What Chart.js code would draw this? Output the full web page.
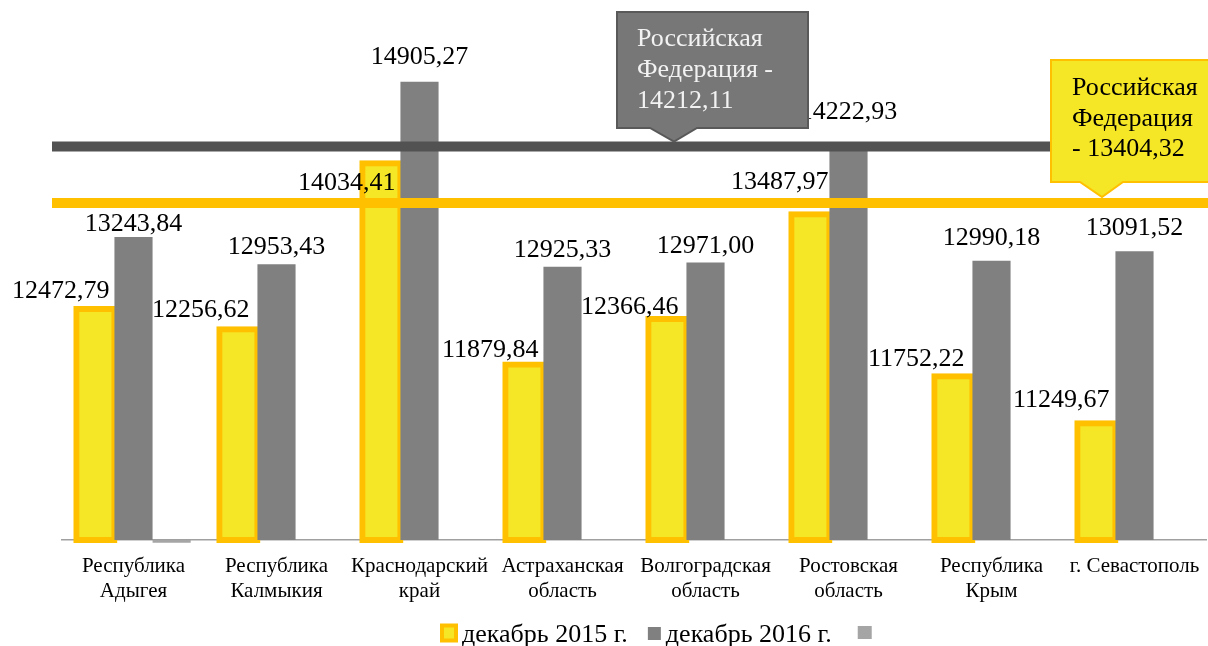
<!DOCTYPE html>
<html><head><meta charset="utf-8">
<script src="https://cdn.jsdelivr.net/npm/chart.js@4.4.1/dist/chart.umd.min.js"></script>
<style>html,body{margin:0;padding:0;background:#fff}#wrap{width:1208px;height:646px;position:relative}</style>
</head><body><div id="wrap"><canvas id="c" width="1208" height="646"></canvas></div>
<script>
// ---- data ----
const categories = [["Республика","Адыгея"],["Республика","Калмыкия"],["Краснодарский","край"],["Астраханская","область"],["Волгоградская","область"],["Ростовская","область"],["Республика","Крым"],"г. Севастополь"];
const seriesNames = ["декабрь 2015 г.", "декабрь 2016 г.", ""];
const dec2015 = [12472.79, 12256.62, 14034.41, 11879.84, 12366.46, 13487.97, 11752.22, 11249.67];
const dec2016 = [13243.84, 12953.43, 14905.27, 12925.33, 12971.00, 14222.93, 12990.18, 13091.52];
const series3 = [9970, null, null, null, null, null, null, null];
const rfValues = [14212.11, 13404.32];        // Российская Федерация: 2016, 2015
const rfLineLevels = [14212.11, 13608];       // levels at which the lines are drawn in the picture
const yMin = 10000, yMax = 15000;

// ---- style / layout ----
const FONT = "'Liberation Serif', 'Times New Roman', serif";
const YEL = '#F5E626', ORANGE = '#FFC000', GREY = '#808080', LGREY = '#A5A5A5', DARK = '#525252';
const labelLayout = {
  yellowGap: [11, 12, -27, 7, 5, 25, 10, 16],
  yellowRightInset: [5, 8, 5, 5, 8, 1, 8, 6],
  greyGap: [6, 10, 18, 9.5, 10, 27, 16, 16]
};
const fmt = v => v.toFixed(2).replace('.', ',');

const orderPlugin = {
  id: 'orderPlugin',
  beforeDatasetDraw(chart, args) {
    if (args.index === 0) return false;
    if (args.index === 1) chart.getDatasetMeta(0).controller.draw();
  }
};

function callout(ctx, box, baseL, baseR, tipX, tipY, fill, stroke, lw) {
  ctx.save();
  ctx.beginPath();
  ctx.moveTo(box.x, box.y);
  ctx.lineTo(box.x + box.w, box.y);
  ctx.lineTo(box.x + box.w, box.y + box.h);
  ctx.lineTo(baseR, box.y + box.h);
  ctx.lineTo(tipX, tipY);
  ctx.lineTo(baseL, box.y + box.h);
  ctx.lineTo(box.x, box.y + box.h);
  ctx.closePath();
  ctx.fillStyle = fill; ctx.fill();
  ctx.lineWidth = lw; ctx.strokeStyle = stroke; ctx.stroke();
  ctx.restore();
}

const overlayPlugin = {
  id: 'overlay',
  afterDraw(chart) {
    const ctx = chart.ctx, y = chart.scales.y;
    // reference lines
    const yDark = y.getPixelForValue(rfLineLevels[0]);
    const yYel = y.getPixelForValue(rfLineLevels[1]);
    ctx.save();
    ctx.lineWidth = 10;
    ctx.strokeStyle = DARK;
    ctx.beginPath(); ctx.moveTo(52, yDark); ctx.lineTo(1208, yDark); ctx.stroke();
    ctx.strokeStyle = ORANGE;
    ctx.beginPath(); ctx.moveTo(52, yYel); ctx.lineTo(1208, yYel); ctx.stroke();
    ctx.restore();

    // data labels
    ctx.save();
    ctx.font = '26px ' + FONT;
    ctx.fillStyle = '#000';
    ctx.textBaseline = 'alphabetic';
    const m0 = chart.getDatasetMeta(0), m1 = chart.getDatasetMeta(1);
    m0.data.forEach((b, i) => {
      ctx.textAlign = 'right';
      ctx.fillText(fmt(dec2015[i]), b.x + b.width / 2 - labelLayout.yellowRightInset[i], b.y - labelLayout.yellowGap[i]);
    });
    m1.data.forEach((b, i) => {
      ctx.textAlign = 'center';
      ctx.fillText(fmt(dec2016[i]), b.x, b.y - labelLayout.greyGap[i]);
    });
    ctx.restore();

    // callouts
    callout(ctx, {x: 617, y: 12, w: 191, h: 116}, 650, 697, 674, yDark - 5, '#777777', '#595959', 2);
    callout(ctx, {x: 1051, y: 60, w: 170, h: 122}, 1080, 1123, 1102, yYel - 6, YEL, ORANGE, 2);
    ctx.save();
    ctx.textAlign = 'left'; ctx.textBaseline = 'alphabetic';
    ctx.font = '26px ' + FONT; ctx.fillStyle = '#F2F2F2';
    ['Российская', 'Федерация -', fmt(rfValues[0])].forEach((t, k) => ctx.fillText(t, 637, 46 + k * 31));
    ctx.font = '26px ' + FONT; ctx.fillStyle = '#000';
    ['Российская', 'Федерация', '- ' + fmt(rfValues[1])].forEach((t, k) => ctx.fillText(t, 1072, 95 + k * 30.5));
    ctx.restore();

    // legend
    ctx.save();
    ctx.font = '26px ' + FONT; ctx.fillStyle = '#000'; ctx.textBaseline = 'alphabetic'; ctx.textAlign = 'left';
    let x = 440;
    ctx.fillStyle = ORANGE; ctx.fillRect(x, 623.5, 18, 19);
    ctx.fillStyle = YEL; ctx.fillRect(x + 4, 627.5, 10, 11);
    x += 22;
    ctx.fillStyle = '#000'; ctx.fillText(seriesNames[0], x, 642);
    x += ctx.measureText(seriesNames[0]).width + 20;
    ctx.fillStyle = GREY; ctx.fillRect(x, 627, 13, 13);
    x += 18;
    ctx.fillStyle = '#000'; ctx.fillText(seriesNames[1], x, 642);
    x += ctx.measureText(seriesNames[1]).width + 26;
    ctx.fillStyle = LGREY; ctx.fillRect(x, 626, 14, 13);
    ctx.restore();
  }
};

new Chart(document.getElementById('c'), {
  type: 'bar',
  data: {
    labels: categories,
    datasets: [
      {label: seriesNames[0], data: dec2015, base: yMin, backgroundColor: YEL, borderColor: ORANGE, borderWidth: 6, borderSkipped: false, inflateAmount: 3},
      {label: seriesNames[1], data: dec2016, base: yMin, backgroundColor: GREY, borderWidth: 0},
      {label: seriesNames[2], data: series3, base: yMin, backgroundColor: LGREY, borderWidth: 0, clip: false}
    ]
  },
  options: {
    responsive: false,
    animation: false,
    devicePixelRatio: 1,
    categoryPercentage: 0.8,
    barPercentage: 1.0,
    layout: {padding: {left: 62, right: 2, top: 73, bottom: 0}},
    plugins: {legend: {display: false}, tooltip: {enabled: false}},
    scales: {
      x: {
        grid: {display: false, drawTicks: false},
        border: {display: true, color: '#A0A0A0', width: 1.5},
        ticks: {color: '#000', font: {family: FONT, size: 21, lineHeight: 1.2}, padding: 14, maxRotation: 0, autoSkip: false},
        afterFit: s => { s.height = 106; s.paddingLeft = 0; s.paddingRight = 0; }
      },
      y: {display: false, min: yMin, max: yMax}
    }
  },
  plugins: [orderPlugin, overlayPlugin]
});
</script></body></html>
